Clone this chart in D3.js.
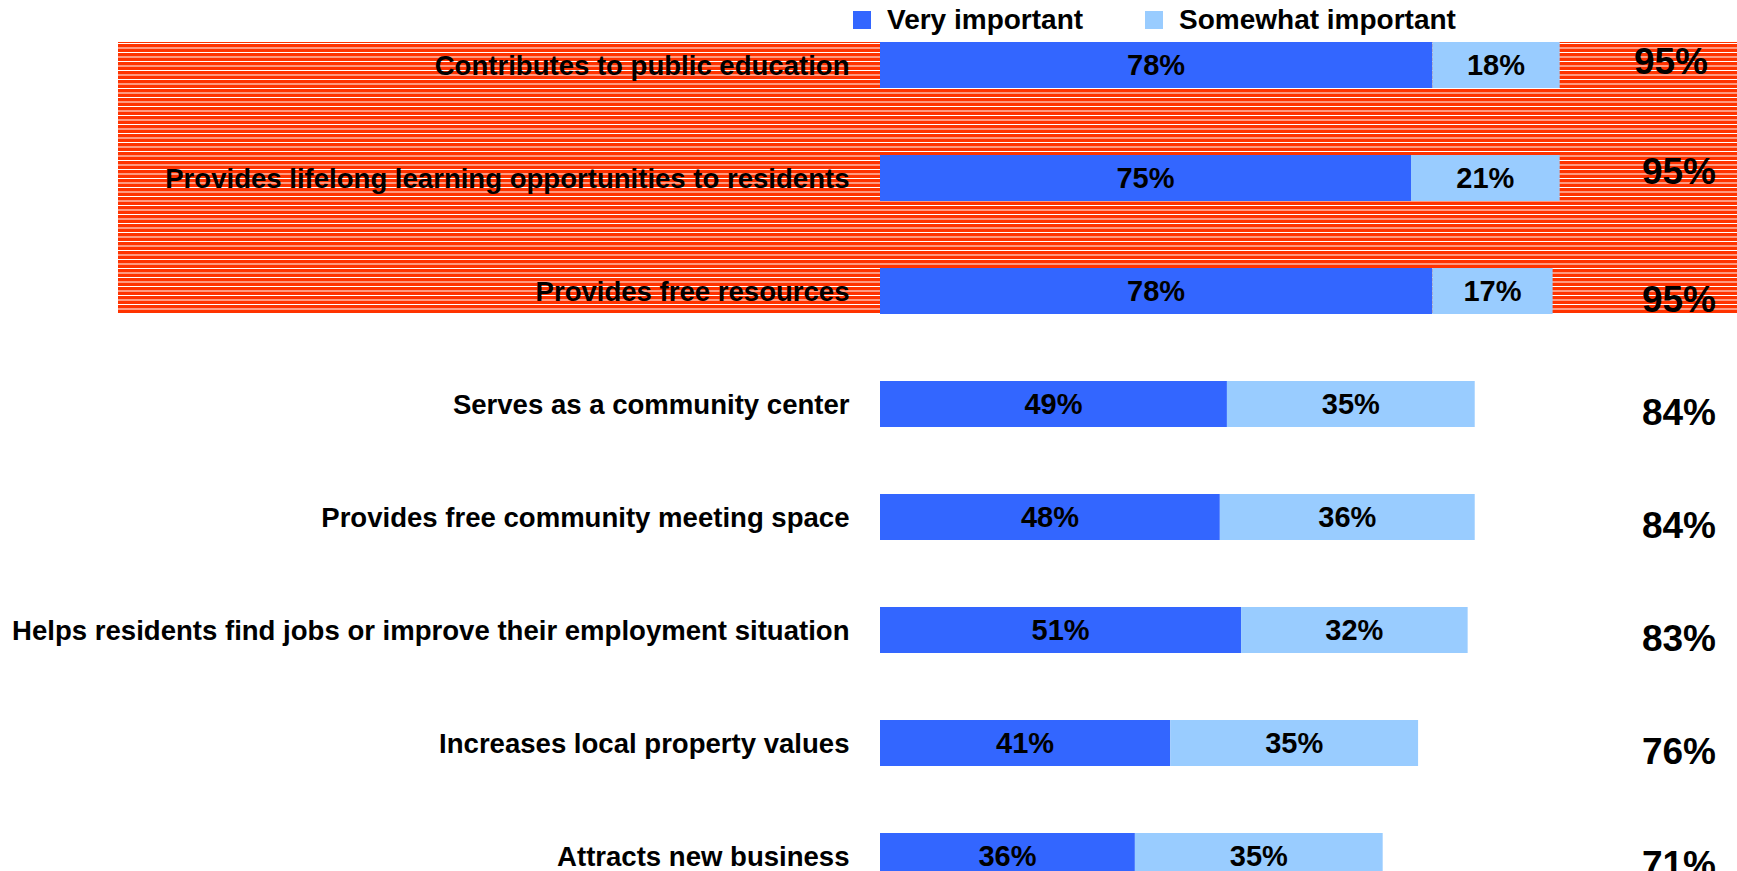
<!DOCTYPE html>
<html>
<head>
<meta charset="utf-8">
<script src="https://cdn.jsdelivr.net/npm/d3@7"></script>
<style>
  html, body { margin: 0; padding: 0; background: #fff; overflow: hidden; }
  svg { display: block; }
  text { font-family: "Liberation Sans", Arial, sans-serif; font-weight: bold; fill: #000; }
</style>
</head>
<body>
<svg id="chart" width="1737" height="871"></svg>
<script>
// ---- data ----
const categories = [
  "Contributes to public education",
  "Provides lifelong learning opportunities to residents",
  "Provides free resources",
  "Serves as a community center",
  "Provides free community meeting space",
  "Helps residents find jobs or improve their employment situation",
  "Increases local property values",
  "Attracts new business"
];
const veryImportant     = [78, 75, 78, 49, 48, 51, 41, 36];
const somewhatImportant = [18, 21, 17, 35, 36, 32, 35, 35];
const totals            = [95, 95, 95, 84, 84, 83, 76, 71];
const highlightedCount  = 3;
const seriesNames = ["Very important", "Somewhat important"];

// ---- layout / style ----
const W = 1737, H = 871;
const colors = { very: "#3366FF", somewhat: "#99CCFF", stripe: "#FF3300" };
const barTop = 42, barH = 46, rowStep = 113;
const labelRight = 849.5;
const longestLabelWidth = 838;
const totalRight = 1716;
const totalDy = [-4, -7, 8, 8, 8, 8, 8, 8];
const totalDx = [-8, 0, 0, 0, 0, 0, 0, 0];

const svg = d3.select("#chart");

const x = d3.scaleLinear().domain([0, 100]).range([880, 880 + 708]);
const y = d3.scaleBand()
  .domain(categories)
  .range([barTop, barTop + (categories.length - 1) * rowStep + barH])
  .paddingInner(1 - barH / rowStep)
  .paddingOuter(0)
  .align(0);

// stripe pattern
const defs = svg.append("defs");
const pat = defs.append("pattern")
  .attr("id", "stripes")
  .attr("patternUnits", "userSpaceOnUse")
  .attr("x", 0).attr("y", barTop)
  .attr("width", 20).attr("height", 9);
pat.append("rect").attr("width", 20).attr("height", 9).attr("fill", colors.stripe);
pat.append("rect").attr("y", 1).attr("width", 20).attr("height", 1).attr("fill", "#fff");
pat.append("rect").attr("y", 5.5).attr("width", 20).attr("height", 1).attr("fill", "#fff");

const hiTop = y(categories[0]);
const hiBottom = y(categories[highlightedCount - 1]) + y.bandwidth();
svg.append("rect")
  .attr("x", 118).attr("y", hiTop)
  .attr("width", W - 118).attr("height", hiBottom - hiTop)
  .attr("fill", "url(#stripes)");

// legend
const legend = svg.append("g");
const legendItems = [
  { name: seriesNames[0], color: colors.very, x: 853 },
  { name: seriesNames[1], color: colors.somewhat, x: 1145 }
];
legendItems.forEach(d => {
  legend.append("rect").attr("x", d.x).attr("y", 11).attr("width", 18).attr("height", 18).attr("fill", d.color);
  legend.append("text").attr("x", d.x + 34).attr("y", 29).attr("font-size", 28).text(d.name);
});

const rows = categories.map((c, i) => ({
  cat: c, v: veryImportant[i], s: somewhatImportant[i], t: totals[i], i
}));

// bars
const g = svg.append("g");
g.selectAll("rect.very").data(rows).join("rect")
  .attr("class", "very")
  .attr("x", x(0)).attr("y", d => y(d.cat))
  .attr("width", d => x(d.v) - x(0)).attr("height", y.bandwidth())
  .attr("fill", colors.very);
g.selectAll("rect.some").data(rows).join("rect")
  .attr("class", "some")
  .attr("x", d => x(d.v)).attr("y", d => y(d.cat))
  .attr("width", d => x(d.v + d.s) - x(d.v)).attr("height", y.bandwidth())
  .attr("fill", colors.somewhat);

// value labels
const valFont = 29;
g.selectAll("text.vlab").data(rows).join("text")
  .attr("class", "vlab")
  .attr("x", d => (x(0) + x(d.v)) / 2)
  .attr("y", d => y(d.cat) + y.bandwidth() / 2 + valFont * 0.358)
  .attr("text-anchor", "middle").attr("font-size", valFont)
  .text(d => d.v + "%");
g.selectAll("text.slab").data(rows).join("text")
  .attr("class", "slab")
  .attr("x", d => (x(d.v) + x(d.v + d.s)) / 2)
  .attr("y", d => y(d.cat) + y.bandwidth() / 2 + valFont * 0.358)
  .attr("text-anchor", "middle").attr("font-size", valFont)
  .text(d => d.s + "%");

// category labels
const labFont = 28;
const labG = g.selectAll("g.lab").data(rows).join("g")
  .attr("class", "lab");
const labTexts = labG.append("text")
  .attr("text-anchor", "end").attr("font-size", labFont)
  .attr("x", 0).attr("y", labFont * 0.358)
  .text(d => d.cat);
let maxW = 0;
labTexts.each(function() { maxW = Math.max(maxW, this.getComputedTextLength()); });
const sx = Math.min(1, longestLabelWidth / maxW);
labG.attr("transform", d => `translate(${labelRight},${y(d.cat) + y.bandwidth() / 2}) scale(${sx},1)`);

// totals
const totFont = 37;
g.selectAll("text.tot").data(rows).join("text")
  .attr("class", "tot")
  .attr("x", d => totalRight + totalDx[d.i])
  .attr("y", d => y(d.cat) + y.bandwidth() / 2 + totFont * 0.358 + totalDy[d.i])
  .attr("text-anchor", "end").attr("font-size", totFont)
  .text(d => d.t + "%");
</script>
</body>
</html>
